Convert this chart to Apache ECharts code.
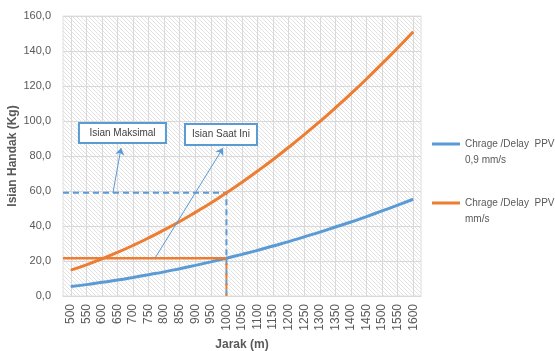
<!DOCTYPE html>
<html>
<head>
<meta charset="utf-8">
<script src="https://cdn.jsdelivr.net/npm/echarts@6/dist/echarts.min.js"></script>
<style>
  html, body { margin: 0; padding: 0; background: #fff; }
  #chart { width: 555px; height: 351px; }
</style>
</head>
<body>
<div id="chart"></div>
<script>
// jarak (m)
const distances = ['500', '550', '600', '650', '700', '750', '800', '850', '900', '950', '1000',
  '1050', '1100', '1150', '1200', '1250', '1300', '1350', '1400', '1450', '1500', '1550', '1600'];

// isian handak (kg) per PPV
const chargePpv09 = [5.4, 6.5, 7.8, 9.1, 10.6, 12.2, 13.8, 15.6, 17.5, 19.5, 21.6,
  23.8, 26.1, 28.6, 31.1, 33.8, 36.5, 39.4, 42.3, 45.4, 48.6, 51.9, 55.3];
const chargePpv2 = [14.8, 17.8, 21.2, 24.9, 28.9, 33.2, 37.8, 42.6, 47.8, 53.2, 59.0,
  65.0, 71.4, 78.0, 85.0, 92.2, 99.7, 107.5, 115.6, 124.0, 132.8, 141.7, 151.0];

const seriesNames = ['Chrage /Delay  PPV 0,9 mm/s', 'Chrage /Delay  PPV 2 mm/s'];
const legendLabels = ['Chrage /Delay  PPV\n0,9 mm/s', 'Chrage /Delay  PPV 2\nmm/s'];

// garis bantu di jarak 1000 m
const refIndex = 10;
const currentCharge = 21.6;
const maxCharge = 59.0;

const annotations = ['Isian Maksimal', 'Isian Saat Ini'];

const blue = '#5b9bd5';
const orange = '#ed7d31';
const font = 'Liberation Sans, Arial, sans-serif';

// hatch background like the excel plot area
function makeHatch() {
  const c = document.createElement('canvas');
  c.width = 4;
  c.height = 4;
  const g = c.getContext('2d');
  g.fillStyle = '#ffffff';
  g.fillRect(0, 0, 4, 4);
  g.strokeStyle = '#e2e2e2';
  g.lineWidth = 1;
  g.beginPath();
  g.moveTo(0, 0); g.lineTo(4, 4);
  g.moveTo(-1, 3); g.lineTo(1, 5);
  g.moveTo(3, -1); g.lineTo(5, 1);
  g.stroke();
  return c;
}

const chart = echarts.init(document.getElementById('chart'));

const noteLabel = {
  show: true,
  position: 'inside',
  formatter: '{b}',
  color: '#404040',
  fontSize: 10,
  backgroundColor: '#ffffff',
  borderColor: blue,
  borderWidth: 2,
  align: 'center',
  verticalAlign: 'middle',
  lineHeight: 18
};

const option = {
  animation: false,
  textStyle: { fontFamily: font },
  grid: {
    left: 63, top: 16, right: 134, bottom: 55,
    show: true,
    borderWidth: 1,
    borderColor: '#e0e0e0',
    backgroundColor: { image: makeHatch(), repeat: 'repeat' },
    outerBoundsMode: 'none'
  },
  legend: {
    orient: 'vertical',
    left: 427,
    top: 115,
    icon: 'rect',
    itemWidth: 28,
    itemHeight: 3,
    itemGap: 11,
    data: seriesNames,
    formatter: (name) => '\n' + legendLabels[seriesNames.indexOf(name)],
    textStyle: { color: '#595959', fontSize: 10, lineHeight: 16 }
  },
  xAxis: [
    {
      type: 'category',
      data: distances,
      name: 'Jarak (m)',
      nameLocation: 'middle',
      nameGap: 40,
      nameTextStyle: { color: '#595959', fontSize: 12, fontWeight: 'bold' },
      axisLine: { lineStyle: { color: '#d9d9d9' } },
      axisTick: { show: false, alignWithLabel: true },
      axisLabel: { rotate: 90, interval: 0, margin: 8, color: '#595959', fontSize: 12 },
      splitLine: { show: true, interval: 0, alignWithLabel: true, lineStyle: { color: '#d9d9d9' } }
    },
    {
      type: 'value',
      min: -0.5,
      max: distances.length - 0.5,
      show: false
    }
  ],
  yAxis: {
    type: 'value',
    min: 0,
    max: 160,
    interval: 20,
    name: 'Isian Handak (Kg)',
    nameLocation: 'middle',
    nameGap: 44,
    nameMoveOverlap: false,
    nameTextStyle: { color: '#595959', fontSize: 12, fontWeight: 'bold' },
    axisLine: { show: false },
    axisTick: { show: false },
    axisLabel: {
      margin: 12,
      color: '#595959',
      fontSize: 11,
      formatter: (v) => v.toFixed(1).replace('.', ',')
    },
    splitLine: { lineStyle: { color: '#d9d9d9' } }
  },
  series: [
    {
      name: 'guide-blue',
      type: 'line',
      xAxisIndex: 1,
      silent: true,
      symbol: 'none',
      lineStyle: { color: blue, width: 2, type: [6, 4] },
      data: [[-0.5, maxCharge], [refIndex, maxCharge], [refIndex, 0]]
    },
    {
      name: 'guide-orange-v',
      type: 'line',
      xAxisIndex: 1,
      silent: true,
      symbol: 'none',
      lineStyle: { color: orange, width: 2, type: [6, 4], dashOffset: 5 },
      data: [[refIndex, currentCharge], [refIndex, 0]]
    },
    {
      name: seriesNames[0],
      type: 'line',
      smooth: true,
      symbol: 'none',
      color: blue,
      lineStyle: { width: 3 },
      data: chargePpv09
    },
    {
      name: seriesNames[1],
      type: 'line',
      smooth: true,
      symbol: 'none',
      color: orange,
      lineStyle: { width: 3 },
      data: chargePpv2
    },
    {
      name: 'guide-orange-h',
      type: 'line',
      xAxisIndex: 1,
      silent: true,
      symbol: 'none',
      lineStyle: { color: orange, width: 2.5 },
      data: [[-0.5, currentCharge], [refIndex, currentCharge]]
    },
    {
      name: 'notes',
      type: 'line',
      xAxisIndex: 1,
      silent: true,
      data: [],
      markLine: {
        silent: true,
        symbol: ['none', 'arrow'],
        symbolSize: 7,
        label: { show: false },
        lineStyle: { color: blue, width: 1, type: 'solid' },
        data: [
          [{ coord: [2.71, maxCharge] }, { coord: [3.23, 84.6] }],
          [{ coord: [5.41, currentCharge] }, { coord: [9.78, 84.6] }]
        ]
      },
      markPoint: {
        silent: true,
        symbol: 'rect',
        symbolSize: 2,
        itemStyle: { color: 'rgba(0,0,0,0)' },
        label: noteLabel,
        data: [
          { name: annotations[0], coord: [3.32, 93.1], label: { width: 85, height: 18 } },
          { name: annotations[1], coord: [9.65, 92.3], label: { width: 70, height: 19 } }
        ]
      }
    }
  ]
};

chart.setOption(option);
</script>
</body>
</html>
